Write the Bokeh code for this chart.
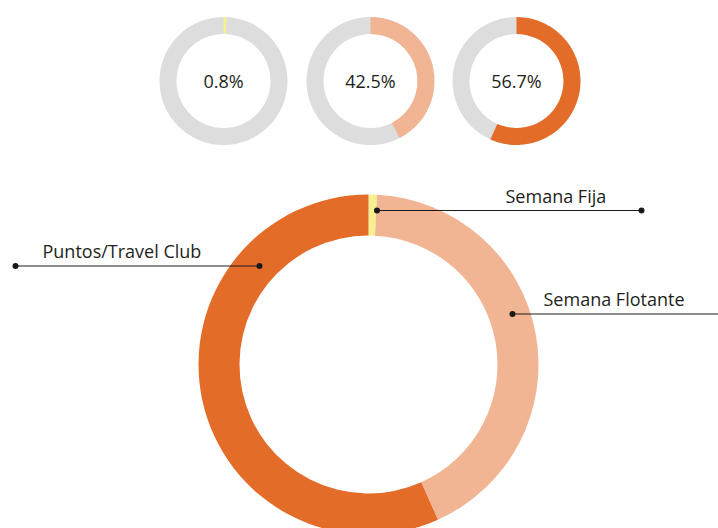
import math
from bokeh.plotting import figure
from bokeh.models import Range1d, ColumnDataSource
from bokeh.core.properties import value
from bokeh.embed import file_html
from bokeh.resources import INLINE

# ---- data ----
categories = ["Semana Fija", "Semana Flotante", "Puntos/Travel Club"]
shares = [0.8, 42.5, 56.7]
pct_labels = ["0.8%", "42.5%", "56.7%"]
colors = ["#F8EF8F", "#F2B594", "#E46C29"]
ring_gray = "#DCDDDC"

W, H = 718, 528
FONT = "Open Sans"

p = figure(width=W, height=H, output_backend="svg", toolbar_location=None,
           x_range=Range1d(0, W), y_range=Range1d(0, H), min_border=0)
p.axis.visible = False
p.grid.visible = False
p.outline_line_color = None
p.background_fill_color = "white"


def sx(x):  # screen x -> data x
    return x


def sy(y):  # screen y -> data y
    return H - y


def ang(f):  # fraction clockwise from 12 o'clock -> bokeh angle
    return math.pi / 2 - 2 * math.pi * f


# ---- small donuts ----
small_cx = [223, 370, 516]
small_cy = 80.5
for i, (s, c, lab) in enumerate(zip(shares, colors, pct_labels)):
    cx, cy = sx(small_cx[i]), sy(small_cy)
    p.annular_wedge(x=cx, y=cy, inner_radius=47, outer_radius=64,
                    inner_radius_units="screen", outer_radius_units="screen",
                    start_angle=0, end_angle=2 * math.pi, direction="anticlock",
                    fill_color=ring_gray, line_color=None)
    p.annular_wedge(x=cx, y=cy, inner_radius=47, outer_radius=64,
                    inner_radius_units="screen", outer_radius_units="screen",
                    start_angle=ang(0), end_angle=ang(s / 100.0), direction="clock",
                    fill_color=c, line_color=None)
    p.text(x=[cx], y=[cy], text=[lab], text_align="center", text_baseline="middle",
           text_font=value(FONT), text_font_size="18px", text_color="#231F20")

# ---- big donut ----
bcx, bcy = sx(368), sy(364)
cum = 0.0
starts, ends = [], []
for s in shares:
    starts.append(ang(cum / 100.0))
    cum += s
    ends.append(ang(cum / 100.0))
src = ColumnDataSource(dict(start=starts, end=ends, color=colors, cat=categories))
p.annular_wedge(x=bcx, y=bcy, inner_radius=129, outer_radius=170,
                inner_radius_units="screen", outer_radius_units="screen",
                start_angle="start", end_angle="end", direction="clock",
                fill_color="color", line_color=None, source=src)

# ---- leader lines & labels ----
lead_x0 = [376.5, 512, 259]
lead_x1 = [641, 730, 15]
lead_y = [210, 313.5, 265.5]
label_x = [505, 543, 42]
label_mid = [195, 298, 250]
for x0, x1, y, lx, lm, cat in zip(lead_x0, lead_x1, lead_y, label_x, label_mid, categories):
    p.line(x=[sx(x0), sx(x1)], y=[sy(y), sy(y)], line_color="#1A1A1A", line_width=1)
    p.scatter(x=[sx(x0), sx(x1)], y=[sy(y), sy(y)], size=6, marker="circle",
              fill_color="#1A1A1A", line_color=None)
    p.text(x=[sx(lx)], y=[sy(lm)], text=[cat], text_align="left",
           text_baseline="middle", text_font=value(FONT),
           text_font_size="18px", text_color="#231F20")

open("out.html", "w").write(file_html(p, INLINE))
